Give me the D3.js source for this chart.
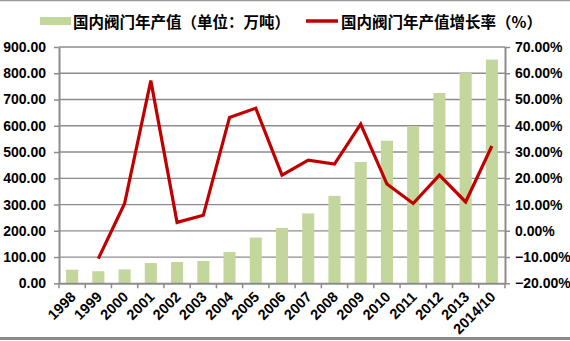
<!DOCTYPE html>
<html><head><meta charset="utf-8">
<script src="https://cdn.jsdelivr.net/npm/d3@7"></script>
<style>
html,body{margin:0;padding:0;background:#fff;}
svg{display:block;}
</style></head>
<body>
<svg id="c" width="570" height="341"></svg>
<script>
const years = ["1998","1999","2000","2001","2002","2003","2004","2005","2006","2007","2008","2009","2010","2011","2012","2013","2014/10"];
const output = [52, 46, 53, 77, 81, 85, 119, 174, 211, 266, 333, 462, 543, 599, 725, 801, 852];
const growth = [null, -10.6, 10.4, 57.2, 3.2, 5.9, 43.2, 46.7, 21.2, 26.9, 25.4, 40.6, 17.8, 10.4, 21.2, 11.0, 32.3];
const leftTicks = [0,100,200,300,400,500,600,700,800,900];
const rightTicks = [-20,-10,0,10,20,30,40,50,60,70];
const legendLabels = ["国内阀门年产值（单位：万吨）", "国内阀门年产值增长率（%）"];

const svg = d3.select("#c");
const L = 59, R = 505, T = 47, B = 283.3;
const numFont = "'Liberation Sans', Arial, sans-serif";
const cjkFont = "'Noto Sans CJK SC', sans-serif";
const gray = "#8c8c8c";

// borders
svg.append("line").attr("x1",0).attr("x2",570).attr("y1",0.5).attr("y2",0.5).attr("stroke","#999").attr("stroke-width",1.5);
svg.append("line").attr("x1",0).attr("x2",570).attr("y1",338.5).attr("y2",338.5).attr("stroke","#8a8a8a").attr("stroke-width",3);

const x = d3.scaleBand().domain(years).range([L, R]).padding(0);
const yL = d3.scaleLinear().domain([0, 900]).range([B, T]);
const yR = d3.scaleLinear().domain([-20, 70]).range([B, T]);

// gridlines
svg.append("g").selectAll("line").data(leftTicks.filter(d => d > 0)).join("line")
  .attr("x1", L).attr("x2", R).attr("y1", d => yL(d)).attr("y2", d => yL(d))
  .attr("stroke", gray).attr("stroke-width", 1.3);

// bars
const bw = x.bandwidth() * 0.46;
svg.append("g").selectAll("rect").data(years).join("rect")
  .attr("x", (d) => x(d) + x.bandwidth()/2 - bw/2)
  .attr("width", bw)
  .attr("y", (d,i) => yL(output[i]))
  .attr("height", (d,i) => yL(0) - yL(output[i]))
  .attr("fill", "#c3d69b");

// left axis
const gl = svg.append("g").attr("transform", `translate(${L},0)`)
  .call(d3.axisLeft(yL).tickValues(leftTicks).tickSize(5).tickSizeOuter(0).tickFormat(d3.format(".2f")));
gl.select(".domain").attr("stroke", gray).attr("stroke-width", 2);
gl.selectAll(".tick line").attr("stroke", gray).attr("stroke-width", 1.5);
gl.selectAll(".tick text").attr("x", -13).attr("font-family", numFont).attr("font-weight", "bold").attr("font-size", 14).attr("fill", "#000");

// right axis
const gr = svg.append("g").attr("transform", `translate(${R},0)`)
  .call(d3.axisRight(yR).tickValues(rightTicks).tickSize(5).tickSizeOuter(0).tickFormat(d => d3.format(".2f")(d) + "%"));
gr.select(".domain").attr("stroke", gray).attr("stroke-width", 2);
gr.selectAll(".tick line").attr("stroke", gray).attr("stroke-width", 1.5);
gr.selectAll(".tick text").attr("x", 10).attr("font-family", numFont).attr("font-weight", "bold").attr("font-size", 14).attr("fill", "#000");

// bottom axis
const gb = svg.append("g").attr("transform", `translate(0,${B})`)
  .call(d3.axisBottom(x).tickSize(0).tickSizeOuter(0));
gb.select(".domain").attr("stroke", gray).attr("stroke-width", 2);
gb.selectAll(".tick text")
  .attr("font-family", numFont).attr("font-weight", "bold").attr("font-size", 14.5).attr("fill", "#000")
  .attr("text-anchor", "end").attr("dy", null).attr("y", 0)
  .attr("transform", "translate(1,11) rotate(-45)")
  .attr("dominant-baseline", "central");
// category boundary ticks
svg.append("g").selectAll("line").data(years.concat(["__end"])).join("line")
  .attr("x1", (d,i) => i < years.length ? x(d) : x(years[years.length-1]) + x.bandwidth())
  .attr("x2", (d,i) => i < years.length ? x(d) : x(years[years.length-1]) + x.bandwidth())
  .attr("y1", B).attr("y2", B + 5)
  .attr("stroke", gray).attr("stroke-width", 1.5);

// line
const lineData = years.map((d,i) => ({d, v: growth[i]})).filter(p => p.v !== null);
svg.append("path").datum(lineData)
  .attr("d", d3.line().x(p => x(p.d) + x.bandwidth()/2).y(p => yR(p.v)))
  .attr("fill", "none").attr("stroke", "#c00000").attr("stroke-width", 3.2).attr("stroke-linejoin", "miter");

// legend
const lg = svg.append("g");
lg.append("rect").attr("x", 40).attr("y", 17).attr("width", 31).attr("height", 8).attr("fill", "#c3d69b");
lg.append("text").attr("x", 73).attr("y", 21).attr("dominant-baseline", "central")
  .attr("font-family", cjkFont).attr("font-weight", "bold").attr("font-size", 15.5).text(legendLabels[0]);
lg.append("line").attr("x1", 306).attr("x2", 338).attr("y1", 21).attr("y2", 21).attr("stroke", "#c00000").attr("stroke-width", 3.5);
lg.append("text").attr("x", 341).attr("y", 21).attr("dominant-baseline", "central")
  .attr("font-family", cjkFont).attr("font-weight", "bold").attr("font-size", 15.5).text(legendLabels[1]);
</script>
</body></html>
